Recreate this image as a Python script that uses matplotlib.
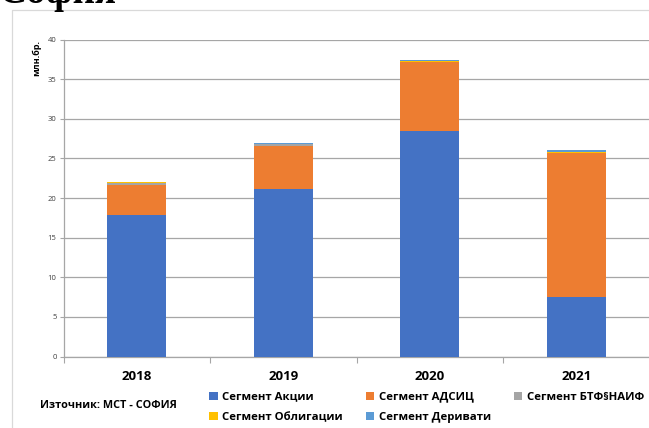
import numpy as np
import matplotlib.pyplot as plt
from matplotlib.lines import Line2D

plt.rcParams['font.family'] = ['Open Sans', 'DejaVu Sans']

years = ['2018', '2019', '2020', '2021']
akcii = [17.9, 21.1, 28.5, 7.5]
adsic = [3.7, 5.5, 8.6, 18.15]
btf = [0.33, 0.2, 0.1, 0.05]
oblig = [0.1, 0.03, 0.03, 0.15]
deriv = [0.04, 0.1, 0.2, 0.2]

names = ['Сегмент Акции', 'Сегмент АДСИЦ', 'Сегмент БТФ§НАИФ',
         'Сегмент Облигации', 'Сегмент Деривати']
colors = ['#4472C4', '#ED7D31', '#A5A5A5', '#FFC000', '#5B9BD5']

W, H = 649, 428
fig = plt.figure(figsize=(W / 100, H / 100), dpi=100)
ax = fig.add_axes([63.5 / W, 1 - 356.5 / H, 586 / W, 317 / H])

x = np.arange(len(years))
bottom = np.zeros(len(years))
bars = []
for vals, name, c in zip([akcii, adsic, btf, oblig, deriv], names, colors):
    b = ax.bar(x, vals, 0.4, bottom=bottom, color=c, label=name, zorder=3)
    bars.append(b)
    bottom += np.array(vals)

ax.set_xlim(-0.5, 3.5)
ax.set_ylim(0, 40)
ax.set_yticks(range(0, 41, 5))
ax.yaxis.grid(True, color='#a6a6a6', lw=0.9, zorder=0)
ax.tick_params(axis='y', labelsize=5.5, labelcolor='#404040', length=3, width=0.8,
               pad=2, color='#a6a6a6')

ax.set_xticks(x)
ax.set_xticklabels(years, fontsize=9.5, fontweight='bold')
ax.tick_params(axis='x', length=0, pad=10)
ax.set_xticks(np.arange(-0.5, 4, 1), minor=True)
ax.tick_params(axis='x', which='minor', length=4, width=0.8, color='#a6a6a6')

for s in ['top', 'right']:
    ax.spines[s].set_visible(False)
ax.spines['left'].set_color('#a6a6a6')
ax.spines['bottom'].set_color('#a6a6a6')
ax.spines['left'].set_linewidth(0.9)
ax.spines['bottom'].set_linewidth(0.9)

ax.set_ylabel('млн.бр.', fontsize=6.5, fontweight='bold')
ax.yaxis.set_label_coords(-22.5 / 586, 1 - 18 / 317)

order = [0, 3, 1, 4, 2]
leg = fig.legend([bars[i] for i in order], [names[i] for i in order],
                 ncol=3, loc='upper left', bbox_to_anchor=(209 / W, 1 - 391.5 / H),
                 frameon=False, prop={'size': 8.2, 'weight': 'bold'},
                 handlelength=0.75, handleheight=0.75, handletextpad=0.4,
                 columnspacing=2.0, labelspacing=0.8, borderaxespad=0, borderpad=0)

fig.text(40 / W, 1 - 405 / H, 'Източник: МСТ - СОФИЯ', fontsize=7.8,
         fontweight='bold', va='center', ha='left')

fig.text(-2 / W, 1 - 3 / H, 'София', fontsize=28, fontweight='bold',
         family='Liberation Serif', va='baseline', ha='left')

fig.add_artist(Line2D([12 / W, 12 / W, 1], [0, 1 - 10 / H, 1 - 10 / H],
                      color='#d9d9d9', lw=0.9, transform=fig.transFigure))

plt.savefig('out.png', dpi=100)
